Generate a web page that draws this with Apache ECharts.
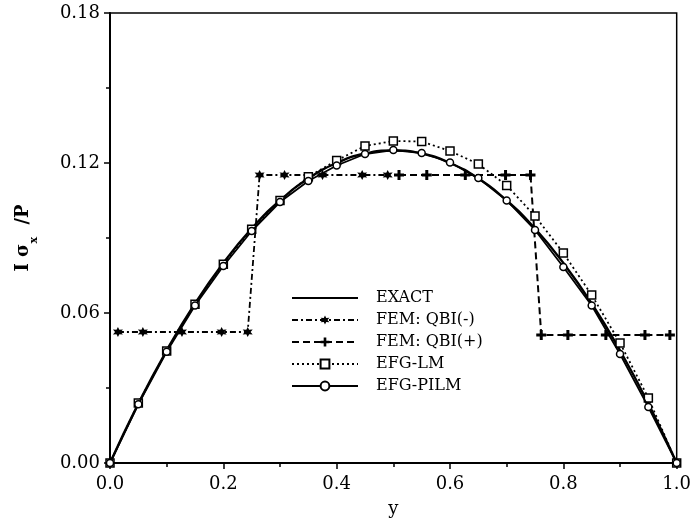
<!DOCTYPE html>
<html>
<head>
<meta charset="utf-8">
<script src="https://cdn.jsdelivr.net/npm/echarts@6/dist/echarts.min.js"></script>
<style>
  html, body { margin: 0; padding: 0; background: #fff; }
  #chart { width: 694px; height: 525px; }
</style>
</head>
<body>
<div id="chart"></div>
<script>
// positions along the depth (y), step 0.05
const yPos = [0, 0.05, 0.1, 0.15, 0.2, 0.25, 0.3, 0.35, 0.4, 0.45, 0.5,
  0.55, 0.6, 0.65, 0.7, 0.75, 0.8, 0.85, 0.9, 0.95, 1.0];

const exactVals = [0, 0.0238, 0.045, 0.0638, 0.08, 0.0938, 0.105, 0.1138, 0.12, 0.1238, 0.125,
  0.1238, 0.12, 0.1138, 0.105, 0.0938, 0.08, 0.0638, 0.045, 0.0238, 0];
const lmVals = [0, 0.024, 0.0448, 0.0635, 0.0795, 0.0935, 0.105, 0.1145, 0.121, 0.1268, 0.1288,
  0.1286, 0.1248, 0.1196, 0.111, 0.0988, 0.084, 0.0672, 0.048, 0.026, 0];
const pilmVals = [0, 0.0235, 0.0445, 0.063, 0.0788, 0.0928, 0.1044, 0.1128, 0.119, 0.1236, 0.1252,
  0.124, 0.1202, 0.114, 0.105, 0.0932, 0.0784, 0.063, 0.0436, 0.0224, 0];

// FEM element values
const qbiMinusX = [0.014, 0.058, 0.127, 0.197, 0.243, 0.264, 0.308, 0.375, 0.445, 0.49];
const qbiMinusVals = [0.0524, 0.0524, 0.0524, 0.0524, 0.0524, 0.1152, 0.1152, 0.1152, 0.1152, 0.1152];
const qbiPlusX = [0.51, 0.559, 0.627, 0.698, 0.742, 0.761, 0.808, 0.875, 0.944, 0.988];
const qbiPlusVals = [0.1152, 0.1152, 0.1152, 0.1152, 0.1152, 0.0512, 0.0512, 0.0512, 0.0512, 0.0512];

const pairs = (xs, vs) => xs.map((x, i) => [x, vs[i]]);

const starPath = 'path://M0,-10 L2.5,-4.3 L8.7,-5 L5,0 L8.7,5 L2.5,4.3 L0,10 L-2.5,4.3 L-8.7,5 L-5,0 L-8.7,-5 L-2.5,-4.3 Z';
const plusPath = 'path://M-3,-10 H3 V-3 H10 V3 H3 V10 H-3 V3 H-10 V-3 H-3 Z';

const serif = 'DejaVu Serif';
const chart = echarts.init(document.getElementById('chart'));

chart.setOption({
  animation: false,
  backgroundColor: '#fff',
  grid: {
    left: 110, right: 15, top: 13, bottom: 62,
    show: true, borderColor: '#000', borderWidth: 1.5,
  },
  legend: {
    orient: 'vertical',
    left: 286,
    top: 285,
    itemWidth: 66,
    itemHeight: 11,
    itemGap: 6,
    textStyle: {
      fontFamily: serif, fontSize: 16, color: '#000',
      padding: [0, 0, 0, 13],
    },
    data: [
      { name: 'EXACT', itemStyle: { opacity: 0 } },
      'FEM: QBI(-)', 'FEM: QBI(+)', 'EFG-LM', 'EFG-PILM',
    ],
  },
  xAxis: {
    type: 'value',
    min: 0, max: 1, interval: 0.2,
    name: 'y',
    nameLocation: 'middle',
    nameGap: 37,
    nameTextStyle: { fontFamily: serif, fontSize: 18, color: '#000' },
    axisLine: { lineStyle: { color: '#000', width: 2 } },
    axisTick: { length: 6, lineStyle: { color: '#000', width: 1.5 } },
    minorTick: { show: true, splitNumber: 2, length: 4, lineStyle: { color: '#000', width: 1.5 } },
    splitLine: { show: false },
    axisLabel: {
      margin: 12,
      fontFamily: serif, fontSize: 18, color: '#000',
      formatter: (v) => v.toFixed(1),
    },
  },
  yAxis: {
    type: 'value',
    min: 0, max: 0.18, interval: 0.06,
    name: '{a|I σ}{s|x}{a|  /P}',
    nameLocation: 'middle',
    nameGap: 70,
    nameTextStyle: {
      fontFamily: serif, fontSize: 18, color: '#000',
      rich: {
        a: { fontFamily: serif, fontSize: 18, color: '#000', fontWeight: 'bold', lineHeight: 26, verticalAlign: 'top' },
        s: { fontFamily: serif, fontSize: 11, color: '#000', fontWeight: 'bold', lineHeight: 26, verticalAlign: 'bottom' },
      },
    },
    axisLine: { show: true, lineStyle: { color: '#000', width: 2 } },
    axisTick: { show: true, length: 6, lineStyle: { color: '#000', width: 1.5 } },
    minorTick: { show: true, splitNumber: 2, length: 4, lineStyle: { color: '#000', width: 1.5 } },
    splitLine: { show: false },
    axisLabel: {
      margin: 10,
      fontFamily: serif, fontSize: 18, color: '#000',
      formatter: (v) => v.toFixed(2),
    },
  },
  series: [
    {
      name: 'EXACT',
      type: 'line',
      data: pairs(yPos, exactVals),
      smooth: true,
      symbol: 'none',
      lineStyle: { color: '#000', width: 2.4 },
      itemStyle: { color: '#000' },
      z: 3,
    },
    {
      name: 'FEM: QBI(-)',
      type: 'line',
      data: pairs(qbiMinusX, qbiMinusVals),
      symbol: starPath,
      symbolSize: 10,
      lineStyle: { color: '#000', width: 1.8, type: [6, 3, 2, 3] },
      itemStyle: { color: '#000' },
    },
    {
      name: 'FEM: QBI(+)',
      type: 'line',
      data: pairs(qbiPlusX, qbiPlusVals),
      symbol: plusPath,
      symbolSize: 10,
      lineStyle: { color: '#000', width: 2, type: [7, 4] },
      itemStyle: { color: '#000' },
    },
    {
      name: 'EFG-LM',
      type: 'line',
      data: pairs(yPos, lmVals),
      symbol: 'rect',
      symbolSize: 8,
      lineStyle: { color: '#000', width: 1.8, type: [2, 3] },
      itemStyle: { color: '#fff', borderColor: '#000', borderWidth: 1.5 },
    },
    {
      name: 'EFG-PILM',
      type: 'line',
      data: pairs(yPos, pilmVals),
      symbol: 'circle',
      symbolSize: 7,
      lineStyle: { color: '#000', width: 1.8 },
      itemStyle: { color: '#fff', borderColor: '#000', borderWidth: 1.5 },
      z: 4,
    },
  ],
});
</script>
</body>
</html>
